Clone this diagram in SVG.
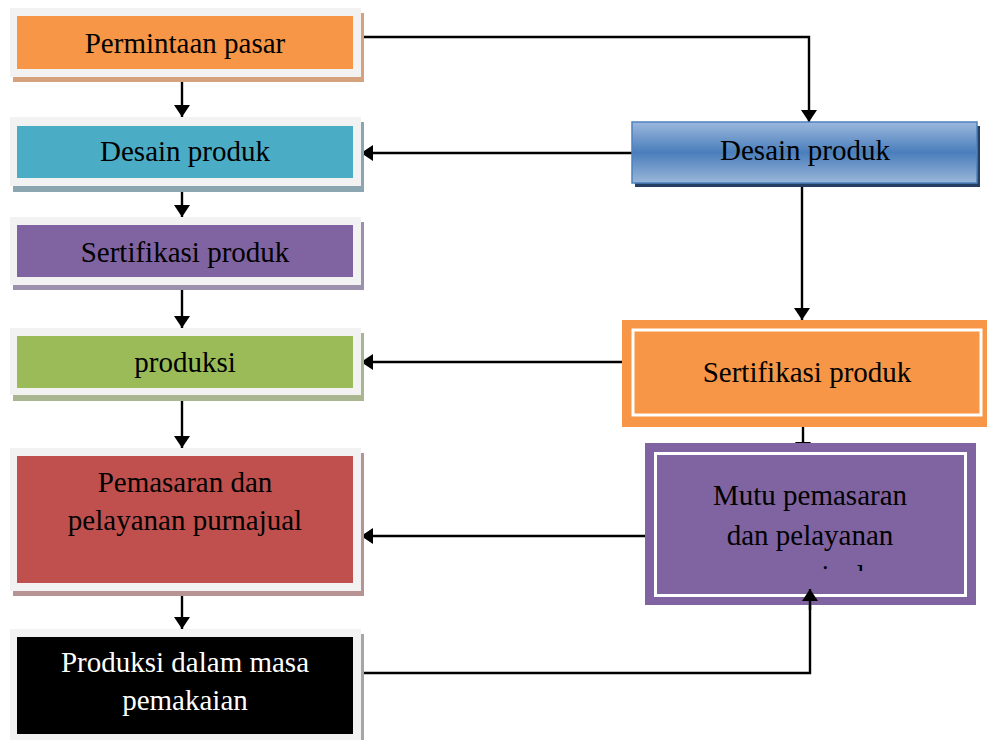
<svg xmlns="http://www.w3.org/2000/svg" width="987" height="740" viewBox="0 0 987 740">
<style>
.frame{fill:#f2f2f2;}
.t{font-family:"Liberation Serif","Times New Roman",serif;font-size:29px;text-anchor:middle;fill:#000;}
.w{fill:#fff;}
.c{fill:none;stroke:#000;stroke-width:2.4;}
</style>
<defs>
<marker id="ah" viewBox="0 0 12 16" refX="12" refY="8" markerWidth="12" markerHeight="16" markerUnits="userSpaceOnUse" orient="auto">
<path d="M0,0 L12,8 L0,16 z" fill="#000"/>
</marker>
<linearGradient id="blue" x1="0" y1="0" x2="0" y2="1">
<stop offset="0" stop-color="#9cb8dd"/>
<stop offset="0.5" stop-color="#4a7ebb"/>
<stop offset="1" stop-color="#9ab6da"/>
</linearGradient>
<clipPath id="pclip"><rect x="658" y="456" width="304" height="115"/></clipPath>
</defs>
<rect width="987" height="740" fill="#fff"/>

<g id="connectors">
<path class="c" d="M182,77 V117" marker-end="url(#ah)"/>
<path class="c" d="M182,186 V217" marker-end="url(#ah)"/>
<path class="c" d="M182,285 V328" marker-end="url(#ah)"/>
<path class="c" d="M182,395 V448" marker-end="url(#ah)"/>
<path class="c" d="M182,591 V629" marker-end="url(#ah)"/>
<path class="c" d="M361,37 H809 V122" marker-end="url(#ah)"/>
<path class="c" d="M632,153 H361" marker-end="url(#ah)"/>
<path class="c" d="M802,183 V320" marker-end="url(#ah)"/>
<path class="c" d="M633,362 H361" marker-end="url(#ah)"/>
<path class="c" d="M803,427 V454" marker-end="url(#ah)"/>
<path class="c" d="M655,536 H361" marker-end="url(#ah)"/>
<path class="c" d="M355,673 H810 V589" marker-end="url(#ah)"/>
</g>

<g id="n1">
<rect x="13" y="13" width="351" height="69" fill="#d6a27e"/>
<rect class="frame" x="10" y="8" width="351" height="69"/>
<rect x="17" y="16" width="336" height="53" fill="#f79646"/>
<text class="t" x="185" y="53">Permintaan pasar</text>
</g>
<g id="n2">
<rect x="13" y="122" width="351" height="70" fill="#8ba6b1"/>
<rect class="frame" x="10" y="117" width="351" height="69"/>
<rect x="17" y="126" width="336" height="52" fill="#4bacc6"/>
<text class="t" x="185" y="161">Desain produk</text>
</g>
<g id="n3">
<rect x="13" y="222" width="351" height="68" fill="#9b91ad"/>
<rect class="frame" x="10" y="217" width="351" height="68"/>
<rect x="17" y="225" width="336" height="52" fill="#8064a2"/>
<text class="t" x="185" y="262">Sertifikasi produk</text>
</g>
<g id="n4">
<rect x="13" y="333" width="351" height="68" fill="#a9b690"/>
<rect class="frame" x="10" y="328" width="351" height="67"/>
<rect x="17" y="336" width="336" height="52" fill="#9bbb59"/>
<text class="t" x="185" y="372">produksi</text>
</g>
<g id="n5">
<rect x="13" y="453" width="351" height="143" fill="#b89393"/>
<rect class="frame" x="10" y="448" width="351" height="143"/>
<rect x="17" y="456" width="336" height="127" fill="#c0504d"/>
<text class="t" x="185" y="492">Pemasaran dan</text>
<text class="t" x="185" y="530">pelayanan purnajual</text>
</g>
<g id="n6">
<rect x="13" y="634" width="351" height="110" fill="#a6a6a6"/>
<rect class="frame" x="10" y="629" width="351" height="115"/>
<rect x="17" y="637" width="336" height="97" fill="#000"/>
<text class="t w" x="185" y="672">Produksi dalam masa</text>
<text class="t w" x="185" y="710">pemakaian</text>
</g>

<g id="r1">
<rect x="635" y="126" width="345" height="61" fill="#243f60"/>
<rect x="632" y="122" width="345" height="61" fill="url(#blue)" stroke="#4f81bd" stroke-width="1.5"/>
<text class="t" x="805" y="160">Desain produk</text>
</g>
<g id="r2">
<rect x="622" y="320" width="365" height="107" fill="#f79646"/>
<rect x="633" y="330" width="348" height="85" fill="#f79646" stroke="#fff" stroke-width="3"/>
<text class="t" x="807" y="382">Sertifikasi produk</text>
</g>
<g id="r3">
<rect x="645" y="443" width="331" height="162" fill="#8064a2"/>
<rect x="655.5" y="453.5" width="310" height="142" fill="#8064a2" stroke="#fff" stroke-width="3"/>
<text class="t" x="810" y="505">Mutu pemasaran</text>
<text class="t" x="810" y="545">dan pelayanan</text>
<text class="t" x="810" y="585" clip-path="url(#pclip)">purnajual</text>
</g>
<path class="c" d="M810,610 V589" marker-end="url(#ah)"/>
</svg>
